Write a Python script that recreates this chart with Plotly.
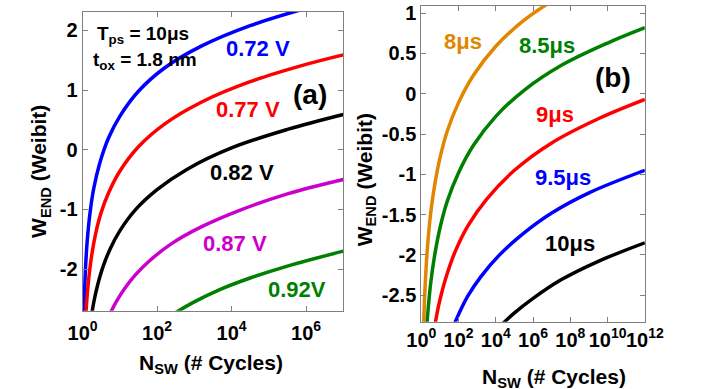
import plotly.graph_objects as go
import numpy as np

# ---------------- data: panel (a) -----------------
# x values given as log10(N_SW), y values W_END (Weibit)
n_exp_072 = [0.03, 0.05, 0.08, 0.12, 0.2, 0.3, 0.45, 0.7, 1.0, 1.5, 2.2, 3.2, 4.5, 6.0]
w_072 = [-2.96, -2.45, -1.98, -1.57, -1.06, -0.65, -0.25, 0.20, 0.56, 0.98, 1.37, 1.74, 2.08, 2.37]

n_exp_077 = [0.08, 0.10, 0.13, 0.18, 0.25, 0.35, 0.5, 0.7, 1.0, 1.5, 2.2, 3.2, 4.5, 6.0, 7.0]
w_077 = [-2.89, -2.66, -2.40, -2.08, -1.75, -1.41, -1.05, -0.72, -0.36, 0.05, 0.43, 0.80, 1.14, 1.43, 1.59]

n_exp_082 = [0.22, 0.3, 0.4, 0.55, 0.75, 1.0, 1.4, 2.0, 2.8, 4.0, 5.5, 7.0]
w_082 = [-2.87, -2.56, -2.28, -1.96, -1.65, -1.36, -1.02, -0.67, -0.33, 0.03, 0.34, 0.59]

n_exp_087 = [0.7, 0.8, 0.95, 1.15, 1.4, 1.8, 2.4, 3.2, 4.2, 5.5, 7.0]
w_087 = [-2.81, -2.67, -2.50, -2.31, -2.11, -1.86, -1.57, -1.29, -1.02, -0.74, -0.50]

n_exp_092 = [2.5, 3.0, 3.7, 4.5, 5.5, 7.0]
w_092 = [-2.73, -2.55, -2.34, -2.15, -1.95, -1.70]

labels_a = ["0.72 V", "0.77 V", "0.82 V", "0.87 V", "0.92V"]
colors_a = ["#0000FF", "#FF0000", "#000000", "#CC00CC", "#008000"]

# ---------------- data: panel (b) -----------------
n_exp_8 = [0.11, 0.13, 0.16, 0.2, 0.26, 0.35, 0.5, 0.7, 1.0, 1.4, 2.0, 2.8, 4.0, 5.5, 7.0]
w_8 = [-3.01, -2.84, -2.63, -2.41, -2.15, -1.85, -1.49, -1.16, -0.80, -0.46, -0.11, 0.23, 0.59, 0.91, 1.15]

n_exp_85 = [0.26, 0.3, 0.38, 0.5, 0.7, 1.0, 1.4, 2.0, 2.8, 4.0, 5.5, 7.5, 10.0, 12.0]
w_85 = [-3.02, -2.87, -2.64, -2.36, -2.03, -1.67, -1.33, -0.98, -0.64, -0.28, 0.04, 0.35, 0.63, 0.82]

n_exp_9 = [0.7, 0.85, 1.0, 1.3, 1.8, 2.5, 3.5, 5.0, 7.0, 9.5, 12.0]
w_9 = [-2.92, -2.72, -2.56, -2.30, -1.97, -1.64, -1.31, -0.95, -0.61, -0.31, -0.07]

n_exp_95 = [1.7, 2.0, 2.5, 3.2, 4.2, 5.5, 7.0, 9.0, 12.0]
w_95 = [-2.90, -2.74, -2.51, -2.27, -2.00, -1.73, -1.48, -1.23, -0.95]

n_exp_10 = [4.3, 5.0, 6.0, 7.5, 9.5, 12.0]
w_10 = [-2.87, -2.72, -2.54, -2.31, -2.08, -1.85]

labels_b = ["8\u03bcs", "8.5\u03bcs", "9\u03bcs", "9.5\u03bcs", "10\u03bcs"]
colors_b = ["#E08600", "#008000", "#FF0000", "#0000FF", "#000000"]

# tick labels
xt_a_exp = [0, 2, 4, 6]
xt_b_exp = [0, 2, 4, 6, 8, 10, 12]
yt_a = [-2, -1, 0, 1, 2]
yt_b = [-2.5, -2, -1.5, -1, -0.5, 0, 0.5, 1]

W, H = 701, 389
FONT = "Liberation Sans, Arial, sans-serif"


def fx(p):
    return p / W


def fy(p):
    return 1 - p / H


def fmt(v):
    return "%g" % v


fig = go.Figure()

series_a = [(n_exp_072, w_072), (n_exp_077, w_077), (n_exp_082, w_082), (n_exp_087, w_087), (n_exp_092, w_092)]
for (nx, wy), lab, c in zip(series_a, labels_a, colors_a):
    fig.add_trace(go.Scatter(x=10 ** np.array(nx), y=wy, mode="lines", name=lab,
                             line=dict(color=c, width=3.5, shape="spline", smoothing=1.0),
                             xaxis="x", yaxis="y", showlegend=False, cliponaxis=True))

series_b = [(n_exp_8, w_8), (n_exp_85, w_85), (n_exp_9, w_9), (n_exp_95, w_95), (n_exp_10, w_10)]
for (nx, wy), lab, c in zip(series_b, labels_b, colors_b):
    fig.add_trace(go.Scatter(x=10 ** np.array(nx), y=wy, mode="lines", name=lab,
                             line=dict(color=c, width=3.5, shape="spline", smoothing=1.0),
                             xaxis="x2", yaxis="y2", showlegend=False, cliponaxis=True))

axis_common = dict(showline=True, linecolor="#808080", linewidth=1, mirror="ticks",
                   ticks="inside", ticklen=5, tickcolor="#808080", showgrid=False, zeroline=False,
                   ticklabeloverflow="allow",
                   tickfont=dict(family=FONT, size=20, color="black", weight="bold"))

fig.update_layout(
    width=W, height=H, margin=dict(l=0, r=0, t=0, b=0),
    paper_bgcolor="white", plot_bgcolor="white",
    font=dict(family=FONT, color="black"),
    xaxis=dict(domain=[fx(71), fx(345)], type="log", range=[0, 7], anchor="y", tickangle=0,
               ticklabelstandoff=4,
               tickvals=[10 ** e for e in xt_a_exp],
               ticktext=["10<sup>%d</sup>" % e for e in xt_a_exp], **axis_common),
    yaxis=dict(domain=[fy(310), fy(8)], range=[-2.70, 2.31], anchor="x",
               tickvals=yt_a, ticktext=[fmt(v) for v in yt_a], **axis_common),
    xaxis2=dict(domain=[fx(427), fx(662)], type="log", range=[0, 12], anchor="y2", tickangle=0,
                tickvals=[10 ** e for e in xt_b_exp],
                ticktext=["10<sup>%d</sup>" % e for e in xt_b_exp], **axis_common),
    yaxis2=dict(domain=[fy(321), fy(2)], range=[-2.83, 1.09], anchor="x2",
                tickvals=yt_b, ticktext=[fmt(v) for v in yt_b], **axis_common),
)

ann = []


def add_text(text, x, y, color="black", size=21, xanchor="center", yanchor="middle", angle=0):
    ann.append(dict(text=text, x=fx(x), y=fy(y), xref="paper", yref="paper", showarrow=False,
                    xanchor=xanchor, yanchor=yanchor, textangle=angle,
                    font=dict(family=FONT, size=size, color=color, weight="bold")))


# panel (a) text
add_text("T<sub>ps</sub> = 10\u03bcs", 84, 31, size=19, xanchor="left")
add_text("t<sub>ox</sub> = 1.8 nm", 80, 58, size=19, xanchor="left")
pos_a = [(255, 44.5), (245, 106.5), (238.5, 170), (231, 241.5), (296, 288.5)]
for lab, c, (x, y) in zip(labels_a, colors_a, pos_a):
    add_text(lab, x, y, color=c, size=22)
add_text("(a)", 310, 91.5, size=28)

# panel (b) text
pos_b = [(471, 37.5), (559, 41.5), (567.5, 112), (576, 175), (583, 241.5)]
for lab, c, (x, y) in zip(labels_b, colors_b, pos_b):
    add_text(lab, x, y, color=c, size=22)
add_text("(b)", 628, 74, size=28)

# axis titles
add_text("N<sub>SW</sub> (# Cycles)", 206, 364, size=21)
add_text("N<sub>SW</sub> (# Cycles)", 567, 378, size=21)
add_text("W<sub>END</sub> (Weibit)", 27, 169, size=21, angle=-90)
add_text("W<sub>END</sub> (Weibit)", 369, 178, size=21, angle=-90)

fig.update_layout(annotations=ann)

fig.write_html("out.html")
